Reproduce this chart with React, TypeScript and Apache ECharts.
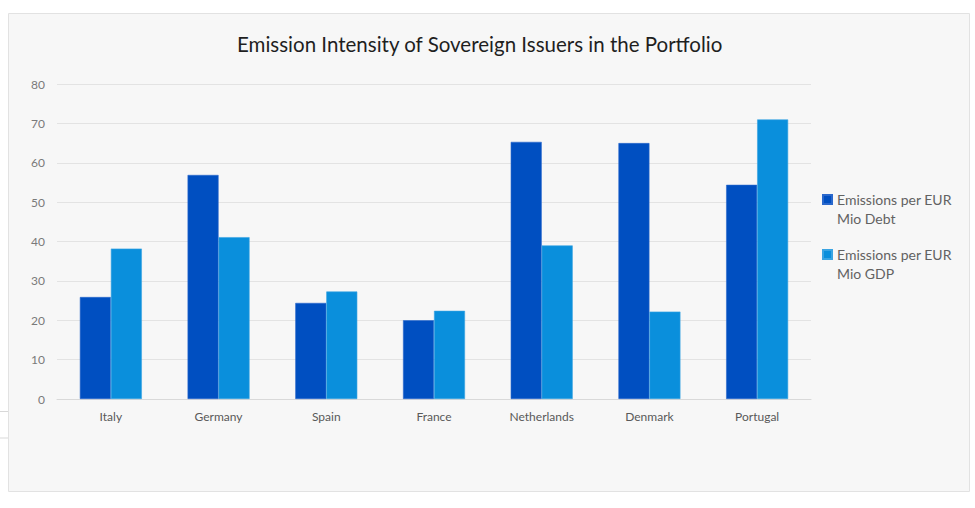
import React, { useEffect, useRef } from "react";
import * as echarts from "echarts";

const categories = ["Italy", "Germany", "Spain", "France", "Netherlands", "Denmark", "Portugal"];
const debtValues = [25.9, 56.9, 24.4, 20.0, 65.3, 65.0, 54.4];
const gdpValues = [38.2, 41.1, 27.3, 22.4, 39.0, 22.2, 71.0];
const seriesNames = ["Emissions per EUR\nMio Debt", "Emissions per EUR\nMio GDP"];
const titleText = "Emission Intensity of Sovereign Issuers in the Portfolio";

const FONT = "Lato, 'Noto Sans', sans-serif";

export default function App() {
  const ref = useRef<HTMLDivElement>(null);
  useEffect(() => {
    if (!ref.current) return;
    const chart = echarts.init(ref.current, undefined, { renderer: "svg" });
    chart.setOption({
      animation: false,
      backgroundColor: "#ffffff",
      textStyle: { fontFamily: FONT },
      graphic: [
        {
          type: "rect",
          z: -100,
          silent: true,
          shape: { x: 8.5, y: 13.5, width: 961, height: 478 },
          style: { fill: "#f7f7f7", stroke: "#e2e2e2", lineWidth: 1 },
        },
        {
          type: "rect",
          z: -100,
          silent: true,
          shape: { x: 0, y: 411, width: 8, height: 1 },
          style: { fill: "#d8d8d8" },
        },
        {
          type: "rect",
          z: -100,
          silent: true,
          shape: { x: 0, y: 437, width: 8, height: 2 },
          style: { fill: "#ececec" },
        },
      ],
      title: {
        text: titleText,
        left: 237,
        top: 33,
        padding: 0,
        textStyle: { fontFamily: FONT, fontSize: 20.5, fontWeight: "normal", color: "#1f1f1f" },
      },
      legend: {
        orient: "vertical",
        left: 817,
        top: 166,
        itemWidth: 9,
        itemHeight: 9,
        itemGap: -2,
        icon: "rect",
        data: seriesNames,
        formatter: (name: string) => " \n" + name,
        textStyle: {
          fontFamily: FONT,
          fontSize: 14,
          color: "#626262",
          lineHeight: 19,
        },
      },
      grid: { left: 57, right: 164, top: 84, bottom: 109, containLabel: false },
      xAxis: {
        type: "category",
        data: categories,
        axisLine: { show: true, lineStyle: { color: "#d9d9d9", width: 1 } },
        axisTick: { show: false },
        axisLabel: { color: "#595959", fontSize: 12, margin: 11, fontFamily: FONT },
      },
      yAxis: {
        type: "value",
        min: 0,
        max: 80,
        interval: 10,
        axisLine: { show: false },
        axisTick: { show: false },
        axisLabel: { color: "#7a7a7a", fontSize: 12, margin: 12, fontFamily: FONT },
        splitLine: { lineStyle: { color: "#e3e3e3", width: 1 } },
      },
      series: [
        {
          name: seriesNames[0],
          type: "bar",
          data: debtValues,
          barWidth: 31,
          barGap: "0%",
          itemStyle: { color: "#004fc1", borderColor: "#2a68cc", borderWidth: 0.6 },
        },
        {
          name: seriesNames[1],
          type: "bar",
          data: gdpValues,
          barWidth: 31,
          barGap: "0%",
          itemStyle: { color: "#0a8fdc", borderColor: "#3aa4e2", borderWidth: 0.6 },
        },
      ],
    });
    return () => chart.dispose();
  }, []);
  return (
    <div
      ref={ref}
      style={{ position: "absolute", left: 0, top: 0, width: 975, height: 508 }}
    />
  );
}
